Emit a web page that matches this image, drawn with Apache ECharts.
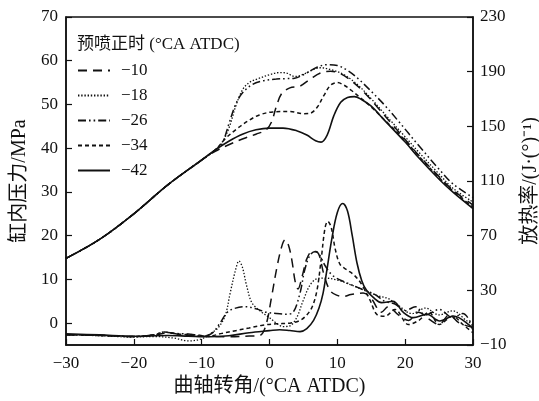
<!DOCTYPE html>
<html>
<head>
<meta charset="utf-8">
<script src="https://cdn.jsdelivr.net/npm/echarts@6/dist/echarts.min.js"></script>
<style>
  html, body { margin: 0; padding: 0; background: #fff; }
  #chart { width: 539px; height: 401px; }
</style>
</head>
<body>
<div id="chart"></div>
<script>
// Pilot-injection timing cases (°CA ATDC)
const timingNames = ['−10', '−18', '−26', '−34', '−42'];

// Cylinder pressure, MPa  [crank angle, value]
const pressure10 = [[-30,14.8],[-25,19.2],[-20,25.0],[-15,31.6],[-10,37.3],[-8,39.3],[-6,40.8],[-4,42.1],[-2,43.2],[-0.5,44.2],[0.3,46.0],[1.0,49.5],[1.8,52.5],[3.0,53.8],[4.5,54.2],[6.0,55.8],[7.5,57.2],[9.0,57.6],[10.5,57.0],[12,55.5],[14,52.7],[16,49.2],[18,45.6],[20,42.0],[22,38.4],[25,33.5],[27,30.5],[30,27.0]];
const pressure18 = [[-30,14.8],[-25,19.2],[-20,25.0],[-15,31.6],[-10,37.3],[-8,39.6],[-7,41.3],[-6,44.5],[-5,49.5],[-4,53.3],[-3,55.0],[-1.5,56.0],[0,56.8],[1.5,57.3],[2.5,57.2],[3.7,56.4],[5,56.9],[6.5,58.0],[7.5,58.4],[9,58.0],[11,56.8],[13,54.5],[15,51.3],[17,47.8],[20,42.6],[22,39.1],[25,34.1],[27,30.9],[30,27.7]];
const pressure26 = [[-30,14.8],[-25,19.2],[-20,25.0],[-15,31.6],[-10,37.3],[-8,39.6],[-7,41.0],[-6,45.5],[-5,50.0],[-4,52.6],[-2.5,54.6],[-1,55.4],[1,55.8],[2.5,55.9],[3.7,56.0],[5,56.8],[7,58.5],[8.5,59.1],[10,58.9],[11.5,57.8],[13,56.0],[15,53.0],[17,49.8],[19,46.2],[22,40.6],[25,35.2],[27,31.9],[30,28.7]];
const pressure34 = [[-30,14.8],[-25,19.2],[-20,25.0],[-15,31.6],[-10,37.3],[-8,39.6],[-6.5,42.2],[-5,44.2],[-3,46.4],[-1.5,47.6],[0.5,48.3],[3,48.4],[5,47.9],[6,48.0],[7,49.3],[8,52.0],[9,54.4],[10,55.0],[11,54.4],[12,53.3],[13.5,51.4],[15,49.4],[17,46.4],[20,41.8],[22,38.2],[25,33.3],[27,30.3],[30,26.5]];
const pressure42 = [[-30,14.8],[-25,19.2],[-20,25.0],[-15,31.6],[-10,37.3],[-8,39.6],[-6,41.6],[-4,43.2],[-2,44.2],[0,44.6],[2,44.6],[4,44.0],[5.5,43.0],[6.8,41.7],[7.6,41.4],[8.5,43.0],[9.5,47.5],[10.5,50.5],[11.5,51.6],[12.5,51.8],[13.5,51.2],[15,49.6],[17,46.3],[20,41.4],[22,37.8],[25,32.9],[27,30.0],[30,26.2]];

// Heat release rate, J/(°)  [crank angle, value]
const heat10 = [[-30,-2.5],[-25,-3.0],[-20,-3.8],[-17,-3.0],[-15,-1.0],[-13,-2.5],[-10,-3.5],[-6,-4.0],[-3,-3.5],[-1.4,-3.0],[-0.5,5],[0.3,25],[1.1,47],[1.8,62],[2.3,67],[2.8,63],[3.3,52],[3.8,36],[4.2,31],[4.8,40],[5.5,53],[6.3,58.5],[7.2,57],[8.0,42],[8.9,30],[9.9,26.5],[10.9,25.5],[12,27],[13.8,28],[15,24],[16.5,14],[17.5,18],[19,12],[20.5,8],[22,14],[23.5,9],[25,5],[26.5,12],[28,6],[30,3]];
const heat18 = [[-30,-2.5],[-25,-3.2],[-20,-4.2],[-17,-3.8],[-14,-5],[-12,-7],[-10,-5.5],[-8.5,-1],[-7.5,3],[-6.5,12],[-5.8,28],[-5.0,45],[-4.5,51.5],[-4.0,47],[-3.4,34],[-2.6,21],[-1.4,15],[0,10],[1,6],[2,3.5],[3,4],[4,10],[5,23],[6,34],[7,38.5],[8,39],[10,37.5],[12,34],[14,30],[16,26],[17.5,24],[19,19],[21,13],[23,17],[25,12],[27,15],[29,8],[30,5]];
const heat26 = [[-30,-2.5],[-25,-3.0],[-20,-3.8],[-17,-2.5],[-15.5,-0.5],[-14,-1.5],[-12,-2],[-10,-3.5],[-8.5,-1.5],[-7.3,6],[-6.2,14],[-5,17],[-3.5,18],[-2,16.5],[-0.5,14],[1,13],[2.5,12.5],[3.5,14],[4.5,28],[5.2,45],[6,56],[6.8,58.5],[7.5,55],[8.2,48],[9.4,40.5],[11.4,35.5],[13.8,30.5],[15.5,27],[17,22],[18.5,20],[20,15],[21.5,18],[23,12],[25,16],[27,10],[28.5,13],[30,3]];
const heat34 = [[-30,-2.5],[-25,-3.0],[-20,-3.8],[-17,-2.5],[-15.5,-0.5],[-13.5,-2],[-11,-2.5],[-9,-3.5],[-7,-1.5],[-5,0.5],[-3,2.5],[-1,4.5],[1,5.5],[3,6],[4.5,8],[5.5,12],[6.3,18],[7,30],[7.6,52],[8.2,76],[8.6,80.5],[9.1,76],[9.7,60],[10.4,49],[11.4,45],[12.4,41.5],[13.5,35],[14.8,23],[15.8,12.5],[17,11],[18.5,16],[20.5,5],[22,8],[23.5,14],[25,5],[27,11],[28.5,5],[30,-1]];
const heat42 = [[-30,-1.8],[-25,-2.6],[-20,-3.6],[-15,-3.0],[-12,-3.5],[-9,-4.0],[-6,-3.2],[-3,-1.0],[0,0.5],[1.5,1.2],[3,0.6],[4.5,-0.2],[5.5,2],[6.5,8],[7.3,17],[7.9,28],[8.4,43],[9.2,68],[10,87],[10.8,93.5],[11.5,88],[12.2,70],[12.9,50],[13.6,37],[14.3,30],[15.5,24],[16.5,21],[18.2,22],[19.7,14],[21.2,10],[23.2,12.5],[25.1,7.6],[27.1,11.2],[29.6,4],[30,1]];

// Axis ticks
const angleTicks = [-30, -20, -10, 0, 10, 20, 30];
const pressureTicks = [0, 10, 20, 30, 40, 50, 60, 70];
const heatTicks = [-10, 30, 70, 110, 150, 190, 230];

const pressureSets = [pressure10, pressure18, pressure26, pressure34, pressure42];
const heatSets = [heat10, heat18, heat26, heat34, heat42];

const INK = '#111';
const FONT = "'Liberation Serif', 'Noto Sans CJK SC', serif";
const dashStyles = [[9, 6], [1.4, 1.8], [8, 3, 1.6, 3, 1.6, 3], [4, 3], 'solid'];
const widths = [1.5, 1.3, 1.5, 1.5, 1.6];

const minus = v => String(v).replace('-', '−');

function makeSeries(sets, axisIndex) {
  return sets.map((d, i) => ({
    name: timingNames[i],
    type: 'line',
    yAxisIndex: axisIndex,
    data: d,
    smooth: 0.35,
    symbol: 'none',
    silent: true,
    animation: false,
    lineStyle: { color: INK, width: widths[i], type: dashStyles[i] },
    itemStyle: { color: INK }
  }));
}

const chart = echarts.init(document.getElementById('chart'), null, { renderer: 'canvas' });
chart.setOption({
  animation: false,
  backgroundColor: '#fff',
  textStyle: { fontFamily: FONT, color: INK },
  title: {
    text: '预喷正时 (°CA ATDC)',
    left: 77, top: 36, padding: 0,
    textStyle: { fontFamily: FONT, fontSize: 17, fontWeight: 'normal', color: INK }
  },
  legend: {
    data: timingNames,
    orient: 'vertical',
    left: 77, top: 62,
    itemWidth: 32, itemHeight: 12, itemGap: 8,
    padding: 0,
    itemStyle: { opacity: 0, borderWidth: 0 },
    textStyle: { fontFamily: FONT, fontSize: 17, color: INK, padding: [0, 0, 0, 6] }
  },
  grid: {
    left: 66, right: 66, top: 17, bottom: 56,
    outerBoundsMode: 'none', containLabel: false,
    show: true, borderColor: INK, borderWidth: 1.5, backgroundColor: 'transparent'
  },
  xAxis: {
    type: 'value', min: -30, max: 30, interval: 10,
    name: '曲轴转角/(°CA ATDC)', nameLocation: 'middle', nameGap: 30,
    nameTextStyle: { fontFamily: FONT, fontSize: 20, color: INK },
    axisLine: { onZero: false, lineStyle: { color: INK, width: 1.5 } },
    axisTick: { inside: true, length: 6, lineStyle: { color: INK, width: 1.2 }, customValues: angleTicks },
    axisLabel: { fontFamily: FONT, fontSize: 17, color: INK, margin: 10, formatter: minus, customValues: angleTicks },
    splitLine: { show: false }
  },
  yAxis: [
    {
      type: 'value', min: -5, max: 70, position: 'left',
      name: '缸内压力/MPa', nameLocation: 'middle', nameGap: 32,
      nameTextStyle: { fontFamily: FONT, fontSize: 20, color: INK },
      axisLine: { show: true, onZero: false, lineStyle: { color: INK, width: 1.5 } },
      axisTick: { inside: true, length: 6, lineStyle: { color: INK, width: 1.2 }, customValues: pressureTicks },
      axisLabel: { fontFamily: FONT, fontSize: 17, color: INK, margin: 8, formatter: minus, customValues: pressureTicks },
      splitLine: { show: false }
    },
    {
      type: 'value', min: -10, max: 230, position: 'right',
      name: '放热率/(J·(°)⁻¹)', nameLocation: 'middle', nameGap: 48, nameRotate: 90,
      nameTextStyle: { fontFamily: FONT, fontSize: 20, color: INK },
      axisLine: { show: true, onZero: false, lineStyle: { color: INK, width: 1.5 } },
      axisTick: { inside: true, length: 6, lineStyle: { color: INK, width: 1.2 }, customValues: heatTicks },
      axisLabel: { fontFamily: FONT, fontSize: 17, color: INK, margin: 7, formatter: minus, customValues: heatTicks },
      splitLine: { show: false }
    }
  ],
  series: makeSeries(pressureSets, 0).concat(makeSeries(heatSets, 1))
});
</script>
</body>
</html>
